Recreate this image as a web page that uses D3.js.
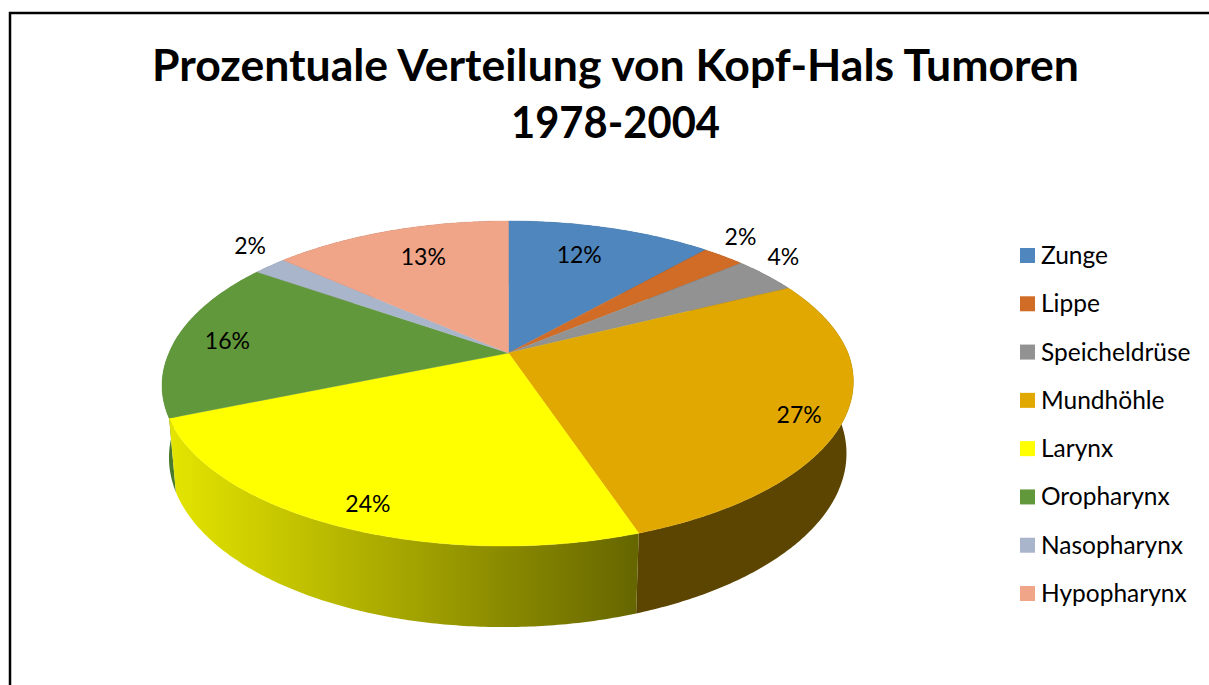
<!DOCTYPE html>
<html lang="de">

<head>
	<meta charset="UTF-8">
	<script src="https://cdn.jsdelivr.net/npm/d3@7"></script>
	<title>Kopf-Hals Tumoren</title>
	<style>
		body {
			margin: 0;
			background: #fff;
			font-family: Lato, sans-serif;
		}

		svg {
			display: block;
		}
	</style>
</head>

<body>
	<div id="chart"></div>
	<script>
		const titleLines = ['Prozentuale Verteilung von Kopf-Hals Tumoren', '1978-2004'];
		const categories = ['Zunge', 'Lippe', 'Speicheldrüse', 'Mundhöhle', 'Larynx', 'Oropharynx', 'Nasopharynx', 'Hypopharynx'];
		const values = [11.5, 2.4, 3.7, 27.1, 24, 16, 1.9, 13.4];
		const topColors = ['#4f86bd', '#d06c26', '#929292', '#e0a800', '#ffff00', '#62983c', '#a9b5ca', '#f0a488'];
		const wallColors = ['#2f5070', '#7a3f16', '#555555', '#5c4500', 'url(#larynxWall)', '#4a7a2e', '#6a7280', '#8c6050'];

		const width = 1209;
		const height = 685;

		// pie is drawn as a circle seen in perspective, k moves the centre up from the middle of the ellipse
		const cx = 508.5;
		const cy = 353;
		const k = 0.1877;
		const A = 339.5;
		const B = 156.8;
		const shear = 0.026; // front of the pie leans a bit to the left

		// % labels: distance from the centre (1 = rim), then a small pixel nudge
		const labelRadius = [0.72, 1.08, 1.08, 0.88, 0.9, 0.85, 1.08, 0.75];
		const labelNudgeX = [-6, 2, -1, -3, 11, 1, -3, 7];
		const labelNudgeY = [-4, 0, 0, 7, -1, 2, -2, -1];

		const titleWidths = [927, 209];

		const svg = d3.select('#chart')
			.append('svg')
			.attr('width', width)
			.attr('height', height);

		const grad = svg.append('defs')
			.append('linearGradient')
			.attr('id', 'larynxWall')
			.attr('gradientUnits', 'userSpaceOnUse')
			.attr('x1', 172).attr('x2', 636)
			.attr('y1', 0).attr('y2', 0);
		grad.append('stop').attr('offset', 0).attr('stop-color', '#e4e400');
		grad.append('stop').attr('offset', 1).attr('stop-color', '#666600');

		svg.append('rect')
			.attr('x', 10).attr('y', 13)
			.attr('width', width + 50).attr('height', height + 50)
			.attr('fill', 'none')
			.attr('stroke', '#000')
			.attr('stroke-width', 2.5);

		svg.selectAll('.title')
			.data(titleLines)
			.enter()
			.append('text')
			.attr('class', 'title')
			.attr('x', 615.5)
			.attr('y', (d, i) => 81 + i * 57)
			.attr('text-anchor', 'middle')
			.attr('font-weight', 700)
			.attr('font-size', 44.5)
			.attr('textLength', (d, i) => titleWidths[i])
			.attr('lengthAdjust', 'spacingAndGlyphs')
			.text(d => d);

		const project = (a, r = 1) => {
			const u = r * Math.sin(a);
			const v = -r * Math.cos(a);
			const d = 1 - k * v;
			const y = cy + B * v / d;
			return [cx + A * u / d - shear * Math.max(0, y - cy), y];
		};
		// same point on the lower rim
		const projectBottom = a => {
			const [x, y] = project(a);
			return [cx + (x - cx) * 0.98, y * 1.055 + 51];
		};

		const rimAngles = (a0, a1) => {
			const n = Math.ceil((a1 - a0) / 0.01);
			return d3.range(n + 1).map(i => a0 + (a1 - a0) * i / n);
		};

		const line = d3.line();
		const arcs = d3.pie().sort(null).value(d => d)(values);

		// walls first (left side before front so the larynx edge sits on top), top faces over them
		const wallOrder = [0, 1, 2, 7, 6, 5, 3, 4];
		svg.append('g')
			.selectAll('path')
			.data(wallOrder)
			.enter()
			.append('path')
			.attr('fill', i => wallColors[i])
			.attr('d', i => {
				const rim = rimAngles(arcs[i].startAngle, arcs[i].endAngle);
				return line(rim.map(a => project(a)).concat(rim.slice().reverse().map(projectBottom))) + 'Z';
			});

		svg.append('g')
			.selectAll('path')
			.data(arcs)
			.enter()
			.append('path')
			.attr('fill', d => topColors[d.index])
			.attr('stroke', d => topColors[d.index])
			.attr('stroke-width', 0.4)
			.attr('d', d => line([[cx, cy]].concat(rimAngles(d.startAngle, d.endAngle).map(a => project(a)))) + 'Z');

		svg.append('g')
			.selectAll('text')
			.data(arcs)
			.enter()
			.append('text')
			.attr('text-anchor', 'middle')
			.attr('font-size', 23)
			.attr('transform', d => {
				const p = project((d.startAngle + d.endAngle) / 2, labelRadius[d.index]);
				// small slices keep their label outside, lifted off the rim
				const lift = d.value < 5 ? 12 : 0;
				return `translate(${p[0] + labelNudgeX[d.index]},${p[1] - lift + 8 + labelNudgeY[d.index]})`;
			})
			.text(d => Math.round(d.value) + '%');

		// Legend
		const legendY = d3.scalePoint().domain(categories).range([248, 586]);
		const legend = svg.append('g')
			.selectAll('g')
			.data(categories)
			.enter()
			.append('g')
			.attr('transform', d => `translate(1020,${legendY(d)})`);
		legend.append('rect')
			.attr('width', 15)
			.attr('height', 15)
			.attr('fill', (d, i) => topColors[i]);
		legend.append('text')
			.attr('x', 21)
			.attr('y', 16)
			.attr('font-size', 24.5)
			.text(d => d);
	</script>
</body>

</html>
